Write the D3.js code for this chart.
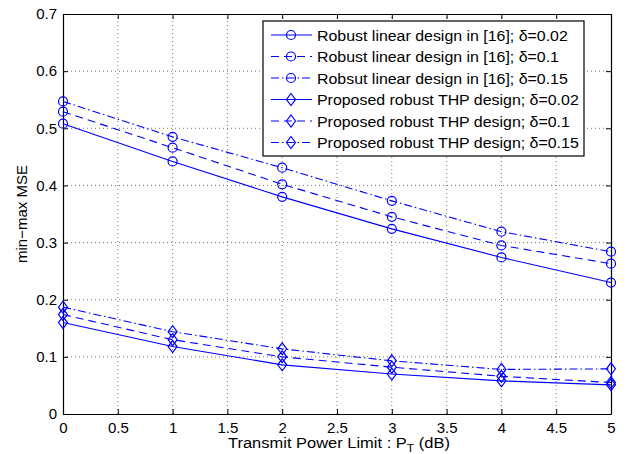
<!DOCTYPE html>
<html>
<head>
<meta charset="utf-8">
<script src="https://cdn.jsdelivr.net/npm/d3@7"></script>
<style>
  body { margin: 0; background: #fff; }
  text { font-family: "Liberation Sans", Arial, sans-serif; }
</style>
</head>
<body>
<div id="chart"></div>
<script>
var xs = [0, 1, 2, 3, 4, 5];
var xTicks = [0, 0.5, 1, 1.5, 2, 2.5, 3, 3.5, 4, 4.5, 5];
var yTicks = [0, 0.1, 0.2, 0.3, 0.4, 0.5, 0.6, 0.7];

var seriesNames = [
  "Robust linear design in [16]; δ=0.02",
  "Robust linear design in [16]; δ=0.1",
  "Robsut linear design in [16]; δ=0.15",
  "Proposed robust THP design; δ=0.02",
  "Proposed robust THP design; δ=0.1",
  "Proposed robust THP design; δ=0.15"
];
var lin002 = [0.508, 0.442, 0.380, 0.324, 0.274, 0.230];
var lin01  = [0.529, 0.466, 0.402, 0.345, 0.295, 0.263];
var lin015 = [0.547, 0.485, 0.431, 0.373, 0.319, 0.284];
var thp002 = [0.160, 0.118, 0.086, 0.070, 0.058, 0.051];
var thp01  = [0.174, 0.130, 0.100, 0.082, 0.066, 0.055];
var thp015 = [0.187, 0.144, 0.114, 0.093, 0.078, 0.079];

var allVals = [lin002, lin01, lin015, thp002, thp01, thp015];
var dashes = ["none", "8,5", "8,3,1.5,3", "none", "8,5", "8,3,1.5,3"];
var markers = ["circle", "circle", "circle", "diamond", "diamond", "diamond"];

var W = 627, H = 454;
var m = { left: 63, right: 16, top: 14, bottom: 40 };
var blue = "#0000ff";

var svg = d3.select("#chart").append("svg").attr("width", W).attr("height", H);

var x = d3.scaleLinear().domain([0, 5]).range([m.left, W - m.right]);
var y = d3.scaleLinear().domain([0, 0.7]).range([H - m.bottom, m.top]);

// grid
var grid = svg.append("g").attr("stroke", "#555").attr("stroke-width", 0.8)
  .attr("stroke-dasharray", "1,3");
xTicks.slice(1, -1).forEach(function (t) {
  grid.append("line").attr("x1", x(t)).attr("x2", x(t)).attr("y1", y(0)).attr("y2", y(0.7));
});
yTicks.slice(1, -1).forEach(function (t) {
  grid.append("line").attr("x1", x(0)).attr("x2", x(5)).attr("y1", y(t)).attr("y2", y(t));
});

// axes with inward ticks
var xAxis = d3.axisBottom(x).tickValues(xTicks).tickSizeInner(-5).tickSizeOuter(0)
  .tickPadding(8).tickFormat(d3.format("~g"));
var yAxis = d3.axisLeft(y).tickValues(yTicks).tickSizeInner(-5).tickSizeOuter(0)
  .tickPadding(6).tickFormat(d3.format("~g"));
var xTop = d3.axisTop(x).tickValues(xTicks).tickSizeInner(-5).tickSizeOuter(0).tickFormat("");
var yRight = d3.axisRight(y).tickValues(yTicks).tickSizeInner(-5).tickSizeOuter(0).tickFormat("");

svg.append("g").attr("transform", `translate(0,${y(0)})`).call(xAxis);
svg.append("g").attr("transform", `translate(${x(0)},0)`).call(yAxis);
svg.append("g").attr("transform", `translate(0,${y(0.7)})`).call(xTop);
svg.append("g").attr("transform", `translate(${x(5)},0)`).call(yRight);
svg.selectAll(".domain").attr("stroke", "#000").attr("stroke-width", 1.2);
svg.selectAll(".tick line").attr("stroke", "#000");
svg.selectAll(".tick text").attr("font-size", 15).attr("fill", "#000");

// lines
var line = d3.line().x(function (d, i) { return x(xs[i]); }).y(function (d) { return y(d); });

function drawMarker(g, type, cx, cy) {
  if (type === "circle") {
    g.append("circle").attr("cx", cx).attr("cy", cy).attr("r", 4.5)
      .attr("fill", "none").attr("stroke", blue).attr("stroke-width", 1.2);
  } else {
    g.append("path")
      .attr("d", `M${cx},${cy - 6}L${cx + 4.5},${cy}L${cx},${cy + 6}L${cx - 4.5},${cy}Z`)
      .attr("fill", "none").attr("stroke", blue).attr("stroke-width", 1.2);
  }
}

allVals.forEach(function (vals, k) {
  var g = svg.append("g");
  g.append("path").datum(vals).attr("d", line).attr("fill", "none")
    .attr("stroke", blue).attr("stroke-width", 1.1).attr("stroke-dasharray", dashes[k]);
  vals.forEach(function (v, i) { drawMarker(g, markers[k], x(xs[i]), y(v)); });
});

// legend
var lg = svg.append("g");
lg.append("rect").attr("x", 263).attr("y", 21).attr("width", 321).attr("height", 135)
  .attr("fill", "#fff").attr("stroke", "#000").attr("stroke-width", 1.2);
var legTexts = [];
seriesNames.forEach(function (name, k) {
  var cy = 35 + k * 21.5;
  lg.append("line").attr("x1", 271).attr("x2", 312).attr("y1", cy).attr("y2", cy)
    .attr("stroke", blue).attr("stroke-width", 1.1).attr("stroke-dasharray", dashes[k]);
  drawMarker(lg, markers[k], 291, cy);
  legTexts.push(lg.append("text").attr("font-size", 15.5)
    .attr("fill", "#000").attr("data-y", cy + 5.5).text(name));
});
// the reference font runs wider; stretch the legend text to the same width
var sx = 251 / legTexts[0].node().getComputedTextLength();
legTexts.forEach(function (t) {
  t.attr("transform", `translate(317,${t.attr("data-y")}) scale(${sx},1)`);
});

// axis labels
svg.append("text").attr("transform", `translate(27,${(y(0) + y(0.7)) / 2}) rotate(-90)`)
  .attr("text-anchor", "middle").attr("font-size", 15).text("min−max MSE");
var xl = svg.append("text").attr("font-size", 15);
xl.append("tspan").text("Transmit Power Limit : P");
xl.append("tspan").attr("font-size", 11).attr("dy", 4).text("T");
xl.append("tspan").attr("dy", -4).text(" (dB)");
var xlw = xl.node().getComputedTextLength();
var xsx = 222 / xlw;
xl.attr("transform", `translate(${339 - 111},448) scale(${xsx},1)`);
</script>
</body>
</html>
